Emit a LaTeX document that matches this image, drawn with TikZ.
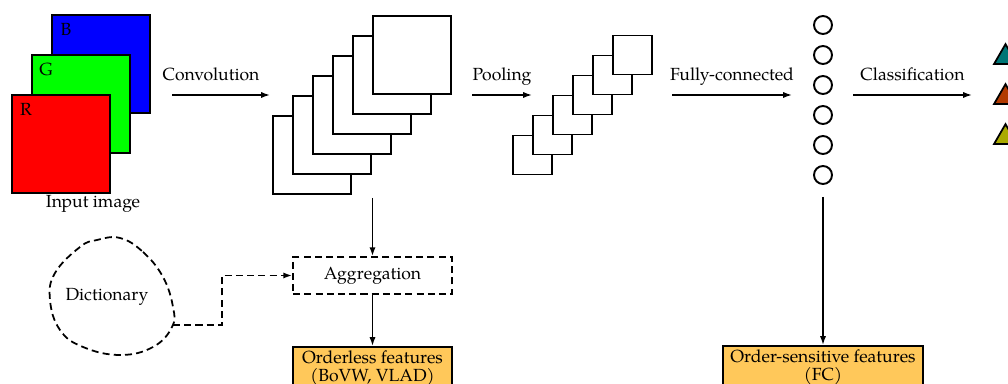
\documentclass[tikz,border=0pt]{standalone}
\usepackage{fontspec}
\setmainfont{TeX Gyre Pagella}
\usetikzlibrary{shapes.geometric, arrows.meta, positioning, calc}

\definecolor{featfill}{RGB}{255,200,90}
\definecolor{clsteal}{RGB}{0,118,118}
\definecolor{clsrust}{RGB}{178,58,0}
\definecolor{clsolive}{RGB}{170,170,0}

\begin{document}
\begin{tikzpicture}[
  x=0.02cm, y=-0.02cm,
  chan/.style={rectangle, draw, line width=1.1pt, minimum size=1.96cm, inner sep=0pt},
  fmap/.style={rectangle, draw, fill=white, line width=1.1pt, inner sep=0pt},
  neuron/.style={circle, draw, line width=1.1pt, minimum size=0.36cm, inner sep=0pt},
  cls/.style={regular polygon, regular polygon sides=3, draw, line width=1pt,
    minimum size=0.53cm, inner sep=0pt},
  feat/.style={rectangle, draw, fill=featfill, line width=1.1pt, align=center,
    inner sep=2pt, font=\fontsize{10}{10.5}\selectfont},
  lbl/.style={text height=7pt, text depth=2pt, inner sep=0pt},
  arrow/.style={-{Latex[length=5pt, width=3.5pt]}, line width=0.9pt},
  dashline/.style={dash pattern=on 4pt off 2.4pt, line width=1pt}
]
\clip (0,0) rectangle (1008,384);

% input image channels
\node[chan, fill=blue] (chB) at (101,64) {};
\node[chan, fill=green] (chG) at (81,104) {};
\node[chan, fill=red] (chR) at (61,144) {};
\node at ($(chB.north west)+(15,15)$) {B};
\node at ($(chG.north west)+(15,15)$) {G};
\node at ($(chR.north west)+(15,15)$) {R};
\node (inlbl) at (93,204) {Input image};

% feature maps
\foreach \i in {0,...,5}
  \node[fmap, minimum size=1.56cm] (conv\i) at ({312+20*\i},{155-20*\i}) {};
\foreach \i in {0,...,5}
  \node[fmap, minimum size=0.78cm] (pool\i) at ({532.5+20*\i},{155-20*\i}) {};

% fully-connected layer
\foreach \i in {0,...,5}
  \node[neuron] (fc\i) at (823,{25+30*\i}) {};

% classes
\foreach \c [count=\i from 0] in {clsteal,clsrust,clsolive}
  \node[cls, fill=\c] (cls\i) at (1005.5,{57.4+40*\i}) {};

% arrow ends
\coordinate (convin) at (172,95);
\coordinate (convend) at (270,95);
\coordinate (poolin) at (472,95);
\coordinate (poolend) at (532,95);
\coordinate (fcin) at (672,95);
\coordinate (fcend) at (792,95);
\coordinate (clsin) at (853,95);
\coordinate (clsend) at (972,95);

\draw[arrow] (convin) -- node[lbl, above=6pt, xshift=-0.2cm]{Convolution} (convend);
\draw[arrow] (poolin) -- node[lbl, above=6pt]{Pooling} (poolend);
\draw[arrow] (fcin) -- node[lbl, above=6pt]{Fully-connected} (fcend);
\draw[arrow] (clsin) -- node[lbl, above=6pt]{Classification} (clsend);

% lower part
\node[rectangle, draw, dashline, minimum width=3.18cm, minimum height=0.74cm]
  (agg) at (372.5,275.5) {Aggregation};
\node[feat, minimum width=3.18cm, anchor=north] (orderless) at (372.5,346)
  {Orderless features\\(BoVW, VLAD)};
\node[feat, minimum width=4cm, anchor=north] (ordered) at (823,345)
  {Order-sensitive features\\(FC)};

\draw[dashline] plot[smooth cycle, tension=0.7] coordinates {
  (120,238) (143,252) (163,277) (173,307) (172,327) (153,347) (120,355)
  (83,347) (60,330) (50,300) (55,273) (80,247) (97,240)};
\node (dict) at (107,297) {Dictionary};
\coordinate (dictout) at (173,325);

\coordinate (convout) at (372.5,198);
\coordinate (fcout) at (823,197);

\draw[arrow] (convout) -- (agg.north);
\draw[arrow] (agg.south) -- (orderless.north);
\draw[arrow] (fcout) -- (ordered.north);
\draw[arrow, dashline] (dictout) -- ++(49,0) |- (agg.west);
\end{tikzpicture}
\end{document}
